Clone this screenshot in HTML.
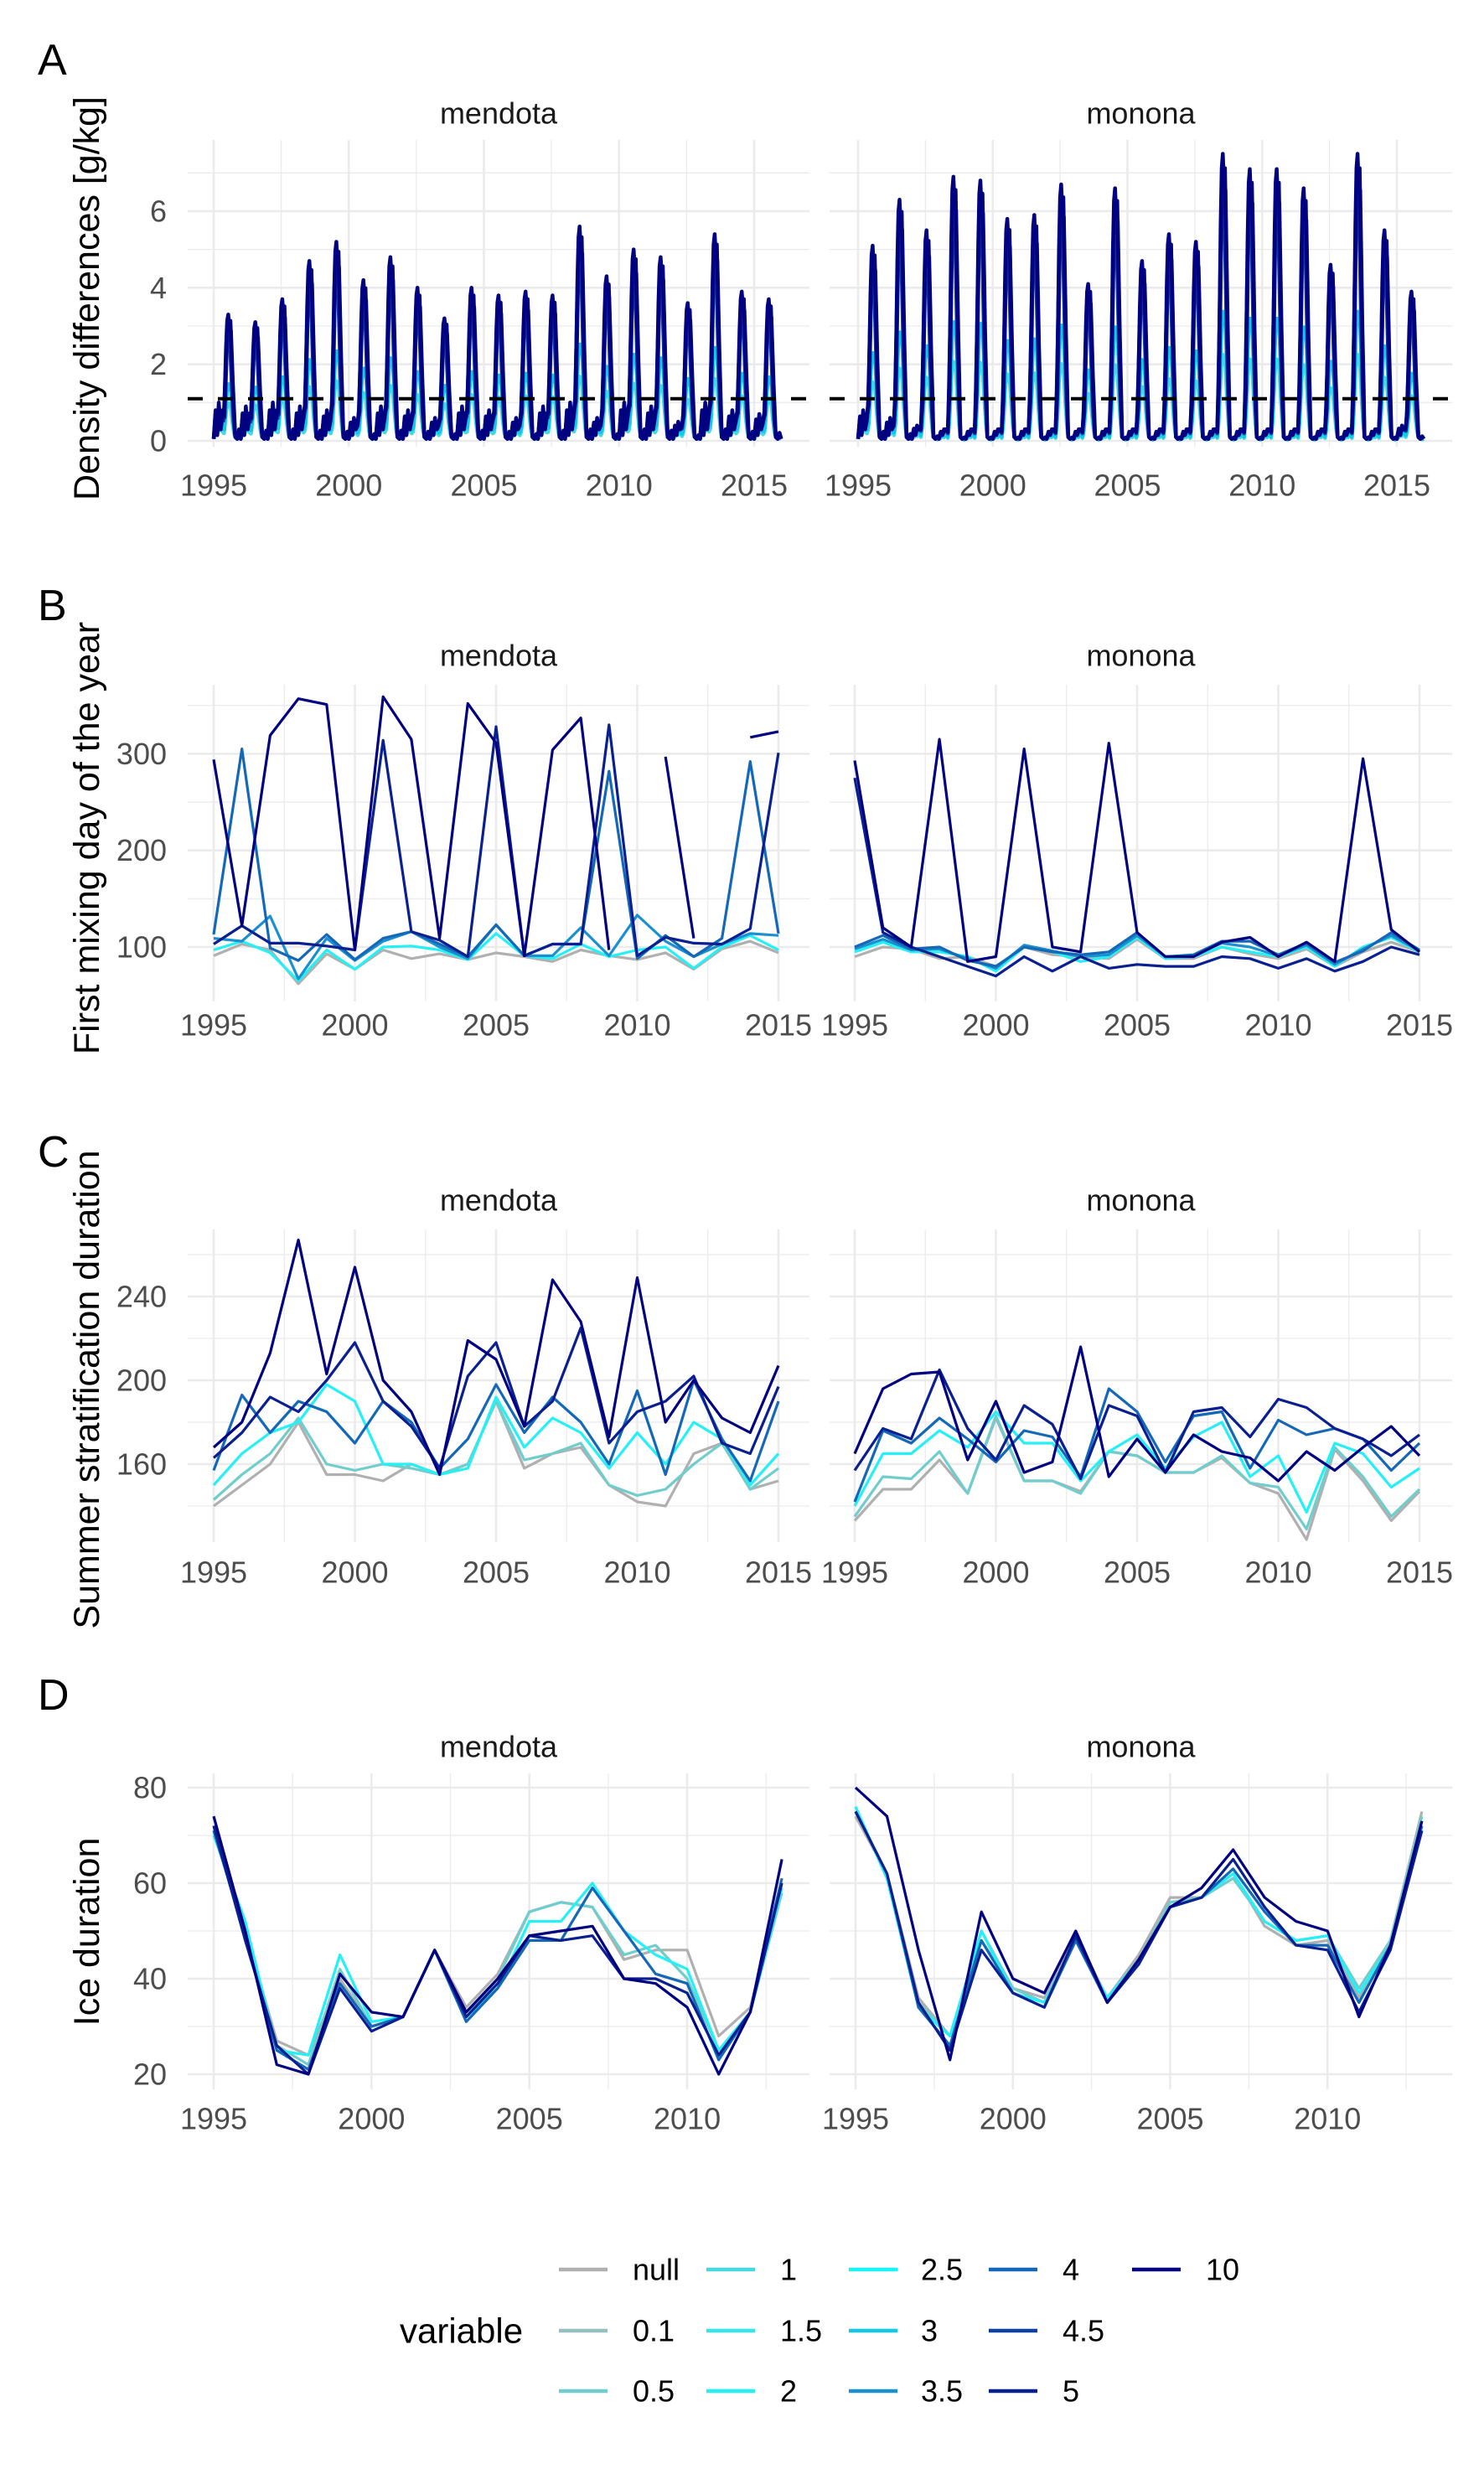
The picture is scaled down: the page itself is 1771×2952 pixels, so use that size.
<!DOCTYPE html>
<html><head><meta charset="utf-8">
<style>
html,body{margin:0;padding:0;background:#fff;}
svg{display:block;font-family:"Liberation Sans",Arial,sans-serif;}
</style></head>
<body>
<svg id="fig" xmlns="http://www.w3.org/2000/svg" width="1771" height="2952" viewBox="0 0 1771 2952">
<rect x="0" y="0" width="1771" height="2952" fill="#fff"/>
</svg>
<script>
// ---- shared data ----
const seriesNames = ["null","0.1","0.5","1","1.5","2","2.5","3","3.5","4","4.5","5","10"];
const seriesColors = ["#b0b0b0","#96c0c0","#70cdcd","#48d8e0","#35e5ee","#25f0f5","#15f5fa","#12c8e8","#1a90d0","#1468b8","#0d3fa5","#0a1f90","#000080"];
const years21 = [1995,1996,1997,1998,1999,2000,2001,2002,2003,2004,2005,2006,2007,2008,2009,2010,2011,2012,2013,2014,2015];
const years19 = [1995,1996,1997,1998,1999,2000,2001,2002,2003,2004,2005,2006,2007,2008,2009,2010,2011,2012,2013];

// Panel A: annual peak density difference (series 10)
const peaksAMendota = [3.3,3.1,3.7,4.7,5.2,4.2,4.8,4.0,3.2,4.0,3.8,3.9,3.8,5.6,4.3,5.0,4.8,3.6,5.4,3.9,3.7];
const peaksAMonona  = [5.1,6.3,5.5,6.9,6.8,5.8,5.9,6.7,4.1,6.6,4.7,5.4,5.2,7.5,7.1,7.1,6.6,4.6,7.5,5.5,3.9];
const springAMendota = [1.0,0.9,1.0,0.9,0.8,0.6,0.9,0.8,0.6,0.9,0.8,0.6,0.9,1.0,0.6,1.0,0.9,0.5,1.0,0.8,0.7];
const springAMonona  = [0.8,0.6,0.4,0.3,0.3,0.3,0.3,0.3,0.3,0.3,0.3,0.3,0.3,0.3,0.3,0.3,0.3,0.3,0.3,0.3,0.4];
const seriesA = [3,7,10,11,12];
const seriesAScale = [0.3,0.45,0.8,0.92,1.0];
const seriesAShift = [0.0,0.01,-0.015,0.02,0.0];

// Panel B: first mixing day
const bSeries = [0,5,8,9,11,12];
const bMendota = [
 [91,103,97,62,93,77,97,88,93,87,94,90,85,97,91,87,94,77,98,106,94],
 [97,106,94,65,97,77,100,101,97,87,114,91,88,103,90,97,100,78,100,112,97],
 [109,106,132,67,109,86,106,116,100,88,123,91,91,120,91,133,106,90,103,114,112],
 [113,305,99,86,113,87,109,116,103,90,123,91,103,103,282,88,112,90,109,292,114],
 [103,122,104,104,101,97,314,116,107,90,328,91,103,103,330,91,110,104,103,119,301],
 [294,122,319,357,351,97,359,315,109,352,311,91,304,337,97,null,297,109,null,317,323]];
const bMonona = [
 [90,100,98,88,90,80,100,92,90,88,108,88,88,100,93,88,98,80,95,105,95],
 [95,105,95,95,90,75,100,95,85,90,110,88,90,100,95,90,100,80,100,110,95],
 [98,108,97,98,88,78,102,96,90,92,112,90,91,104,100,91,102,82,98,112,96],
 [100,112,98,100,86,80,100,95,92,95,115,90,92,106,106,92,104,84,96,115,97],
 [275,115,100,90,80,70,90,75,90,78,82,80,80,90,88,78,88,75,85,100,92],
 [293,120,100,315,85,90,305,100,95,311,115,90,90,105,110,90,105,85,295,118,95]];

// Panel C: summer stratification duration
const cSeries = [0,2,5,9,11,12];
const cMendota = [
 [140,150,160,180,155,155,152,160,155,160,190,158,165,168,150,142,140,165,170,148,152],
 [143,155,165,182,160,157,160,158,155,160,190,162,165,170,150,145,148,160,170,148,158],
 [150,165,175,180,198,190,160,160,155,158,192,168,182,175,158,175,160,180,172,150,165],
 [157,193,175,190,185,170,190,180,158,172,198,175,192,180,160,195,155,200,172,152,190],
 [163,175,192,185,200,218,190,178,158,202,218,178,190,225,170,185,190,202,170,165,197],
 [168,180,213,267,203,254,200,185,155,219,210,178,248,228,173,249,180,200,182,175,207]];
const cMonona = [
 [133,148,148,162,146,182,152,152,147,166,164,156,156,163,151,146,124,167,152,133,147],
 [135,154,153,166,146,183,152,152,146,166,164,156,156,164,151,149,129,168,154,135,148],
 [140,165,165,176,168,185,170,170,152,166,174,158,173,180,154,164,137,170,165,149,158],
 [142,176,170,182,172,161,176,173,154,196,185,161,183,185,158,181,174,177,172,157,170],
 [157,177,172,205,177,162,188,179,153,188,183,156,185,187,173,191,187,177,172,164,174],
 [165,196,203,204,162,190,156,161,216,154,172,156,174,166,163,152,166,157,168,178,164]];

// Panel D: ice duration
const dSeries = [0,2,5,9,11,12];
const dMendota = [
 [72,50,27,24,40,30,32,46,34,41,54,56,55,44,46,46,28,34,60],
 [71,50,26,22,42,30,32,46,32,40,54,56,55,45,47,40,25,33,58],
 [70,52,25,24,45,31,32,46,32,38,52,52,60,50,45,42,25,33,59],
 [71,49,25,21,39,30,32,46,31,38,48,48,59,50,41,39,23,33,61],
 [72,48,26,20,38,29,32,46,32,39,49,48,49,40,40,37,24,33,60],
 [74,50,22,20,41,33,32,46,33,40,49,50,51,40,39,34,20,33,65]];
const dMonona = [
 [74,62,36,28,48,38,36,49,36,45,57,57,62,51,47,48,36,48,75],
 [76,61,35,28,50,38,35,48,36,44,56,57,61,52,48,49,38,48,74],
 [76,61,34,28,50,37,35,48,36,44,55,57,62,52,48,49,37,47,73],
 [75,62,34,26,48,37,34,48,35,44,55,57,63,54,47,47,35,47,72],
 [75,62,35,25,46,37,34,49,35,43,55,57,65,55,47,46,33,46,71],
 [80,74,46,23,54,40,37,50,35,44,55,59,67,57,52,50,32,47,73]];

// ---- drawing ----
const NS = "http://www.w3.org/2000/svg";
const svg = document.getElementById("fig");
function mk(tag, attrs, parent){
  const e = document.createElementNS(NS, tag);
  for (const k in attrs) e.setAttribute(k, attrs[k]);
  (parent||svg).appendChild(e);
  return e;
}
function txt(str, attrs, parent){ const e = mk("text", attrs, parent); e.textContent = str; return e; }

function makePanel(cfg){
  const g = mk("g", {});
  
  
  const xs = v => cfg.x1995 + (v-1995)*cfg.xPer;
  const ys = v => cfg.yRef - (v-cfg.vRef)*cfg.yPer;
  cfg.yMinor.forEach(v=>{ const l=mk("line",{x1:cfg.px0,x2:cfg.px1,y1:ys(v),y2:ys(v),stroke:"#ebebeb","stroke-width":1.3},g);
      });
  cfg.xMinor.forEach(v=>{ const l=mk("line",{x1:xs(v),x2:xs(v),y1:cfg.top,y2:cfg.bottom,stroke:"#ebebeb","stroke-width":1.3},g);
      });
  cfg.yMajor.forEach(v=>{ const l=mk("line",{x1:cfg.px0,x2:cfg.px1,y1:ys(v),y2:ys(v),stroke:"#ebebeb","stroke-width":2.6},g);
      });
  cfg.xMajor.forEach(v=>{ const l=mk("line",{x1:xs(v),x2:xs(v),y1:cfg.top,y2:cfg.bottom,stroke:"#ebebeb","stroke-width":2.6},g);
      });
  cfg.xMajor.forEach(v=>{ const t=txt(String(v),{x:xs(v),y:cfg.tickY,"font-size":36,fill:"#4d4d4d","text-anchor":"middle","dominant-baseline":"central"},g);
      });
  if (cfg.showY){
    cfg.yMajor.forEach(v=>{ const t=txt(String(v),{x:199,y:ys(v),"font-size":36,fill:"#4d4d4d","text-anchor":"end","dominant-baseline":"central"},g);
        });
  }
  const s = txt(cfg.strip,{x:(cfg.px0+cfg.px1)/2,y:cfg.stripY,"font-size":36,fill:"#1a1a1a","text-anchor":"middle","dominant-baseline":"central"},g);
   
  return {g, xs, ys};
}
function drawLine(p, xsArr, vals, color, name, width){
  let d = ""; let pen = false;
  for (let i=0;i<vals.length;i++){
    const v = vals[i];
    if (v===null || v===undefined){ pen=false; continue; }
    d += (pen?"L":"M") + p.xs(xsArr[i]).toFixed(1) + "," + p.ys(v).toFixed(1);
    pen = true;
  }
  const e = mk("path",{d:d,fill:"none",stroke:color,"stroke-width":width||3.2,"stroke-linejoin":"round"},p.g);
  
  
}

const yMaj = {A:[0,2,4,6],B:[100,200,300],C:[160,200,240],D:[20,40,60,80]};
const yMin = {A:[1,3,5,7],B:[150,250,350],C:[140,180,220,260],D:[30,50,70]};
const xMaj21 = [1995,2000,2005,2010,2015], xMin21 = [1997.5,2002.5,2007.5,2012.5];
const xMaj19 = [1995,2000,2005,2010], xMin19 = [1997.5,2002.5,2007.5,2012.5];

const L = {px0:224,px1:966}, R = {px0:990,px1:1733};

// Panel A
const pA = [
 makePanel(Object.assign({name:"panel-a-mendota",strip:"mendota",x1995:255,xPer:32.25,yRef:526,vRef:0,yPer:45.67,top:167,bottom:533,tickY:579,stripY:135,showY:true,yMajor:yMaj.A,yMinor:yMin.A,xMajor:xMaj21,xMinor:xMin21},L)),
 makePanel(Object.assign({name:"panel-a-monona",strip:"monona",x1995:1024,xPer:32.15,yRef:526,vRef:0,yPer:45.67,top:167,bottom:533,tickY:579,stripY:135,showY:false,yMajor:yMaj.A,yMinor:yMin.A,xMajor:xMaj21,xMinor:xMin21},R))];
const shapeT = [0.0,0.07,0.13,0.19,0.26,0.33,0.38,0.42,0.46,0.5,0.54,0.58,0.62,0.66,0.7,0.75,0.8,0.87,0.94];
[[peaksAMendota,springAMendota],[peaksAMonona,springAMonona]].forEach((pr,li)=>{
  const p = pA[li];
  seriesA.forEach((si,k)=>{
    const f = seriesAScale[k], sh = seriesAShift[k];
    const xs=[], vs=[];
    years21.forEach((yr,i)=>{
      const pk = pr[0][i]*f, sp = pr[1][i]*f;
      const vals = [0.05,sp*0.8,0.15,sp,0.3,sp*0.8,0.2*pk,0.45*pk,0.75*pk,0.95*pk,pk,0.9*pk,0.95*pk,0.7*pk,0.45*pk,0.2*pk,0.1,0.05,0.3*sp];
      shapeT.forEach((t,j)=>{ xs.push(yr+t+(j>5&&j<16?sh:0)); vs.push(vals[j]); });
    });
    xs.push(2016.0); vs.push(0.05);
    drawLine(p, xs, vs, seriesColors[si], "density-line-"+seriesNames[si], 4.5);
  });
  const dl = mk("line",{x1:(li?R.px0:L.px0),x2:(li?R.px1:L.px1),y1:p.ys(1.1),y2:p.ys(1.1),stroke:"#000","stroke-width":4,"stroke-dasharray":"18,18"},p.g);
   
});

// Panel B
const pBm = makePanel(Object.assign({name:"panel-b-mendota",strip:"mendota",x1995:255,xPer:33.7,yRef:1130,vRef:100,yPer:1.153,top:817,bottom:1195,tickY:1223,stripY:782,showY:true,yMajor:yMaj.B,yMinor:yMin.B,xMajor:xMaj21,xMinor:xMin21},L));
const pBn = makePanel(Object.assign({name:"panel-b-monona",strip:"monona",x1995:1020,xPer:33.7,yRef:1130,vRef:100,yPer:1.153,top:817,bottom:1195,tickY:1223,stripY:782,showY:false,yMajor:yMaj.B,yMinor:yMin.B,xMajor:xMaj21,xMinor:xMin21},R));
bSeries.forEach((si,k)=>{ drawLine(pBm, years21, bMendota[k], seriesColors[si], "mixing-line-mendota-"+seriesNames[si]);
                          drawLine(pBn, years21, bMonona[k], seriesColors[si], "mixing-line-monona-"+seriesNames[si]); });

// Panel C
const pCm = makePanel(Object.assign({name:"panel-c-mendota",strip:"mendota",x1995:255,xPer:33.7,yRef:1747,vRef:160,yPer:2.5,top:1467,bottom:1840,tickY:1876,stripY:1432,showY:true,yMajor:yMaj.C,yMinor:yMin.C,xMajor:xMaj21,xMinor:xMin21},L));
const pCn = makePanel(Object.assign({name:"panel-c-monona",strip:"monona",x1995:1020,xPer:33.7,yRef:1747,vRef:160,yPer:2.5,top:1467,bottom:1840,tickY:1876,stripY:1432,showY:false,yMajor:yMaj.C,yMinor:yMin.C,xMajor:xMaj21,xMinor:xMin21},R));
cSeries.forEach((si,k)=>{ drawLine(pCm, years21, cMendota[k], seriesColors[si], "strat-line-mendota-"+seriesNames[si]);
                          drawLine(pCn, years21, cMonona[k], seriesColors[si], "strat-line-monona-"+seriesNames[si]); });

// Panel D
const pDm = makePanel(Object.assign({name:"panel-d-mendota",strip:"mendota",x1995:255,xPer:37.67,yRef:2475,vRef:20,yPer:5.7,top:2116,bottom:2493,tickY:2528,stripY:2084,showY:true,yMajor:yMaj.D,yMinor:yMin.D,xMajor:xMaj19,xMinor:xMin19},L));
const pDn = makePanel(Object.assign({name:"panel-d-monona",strip:"monona",x1995:1021,xPer:37.55,yRef:2475,vRef:20,yPer:5.7,top:2116,bottom:2493,tickY:2528,stripY:2084,showY:false,yMajor:yMaj.D,yMinor:yMin.D,xMajor:xMaj19,xMinor:xMin19},R));
dSeries.forEach((si,k)=>{ drawLine(pDm, years19, dMendota[k], seriesColors[si], "ice-line-mendota-"+seriesNames[si]);
                          drawLine(pDn, years19, dMonona[k], seriesColors[si], "ice-line-monona-"+seriesNames[si]); });

// Panel letters and y titles
const letters = [["A",72],["B",723],["C",1375],["D",2023]];
letters.forEach(l=>{ const t=txt(l[0],{x:45,y:l[1],"font-size":52,fill:"#000","dominant-baseline":"central"});
    });
const ytitles = [["Density differences [g/kg]",356],["First mixing day of the year",1000],["Summer stratification duration",1658],["Ice duration",2305]];
ytitles.forEach(t=>{ const e=txt(t[0],{x:0,y:0,"font-size":43,fill:"#000","text-anchor":"middle","dominant-baseline":"central",transform:"translate(104,"+t[1]+") rotate(-90)"});
    });

// Legend
const legG = mk("g",{});


const lt = txt("variable",{x:477,y:2781,"font-size":42,fill:"#000","dominant-baseline":"central"},legG);
 
const colLine = [667,843,1013,1180,1351], colText = [755,931,1099,1268,1439], rowY = [2708,2781,2853];
seriesNames.forEach((n,i)=>{
  const c = Math.floor(i/3), r = i%3;
  const ln = mk("line",{x1:colLine[c],x2:colLine[c]+58,y1:rowY[r],y2:rowY[r],stroke:seriesColors[i],"stroke-width":4.5},legG);
   
  const t = txt(n,{x:colText[c],y:rowY[r],"font-size":36,fill:"#000","dominant-baseline":"central"},legG);
   
});
</script>
</body></html>
